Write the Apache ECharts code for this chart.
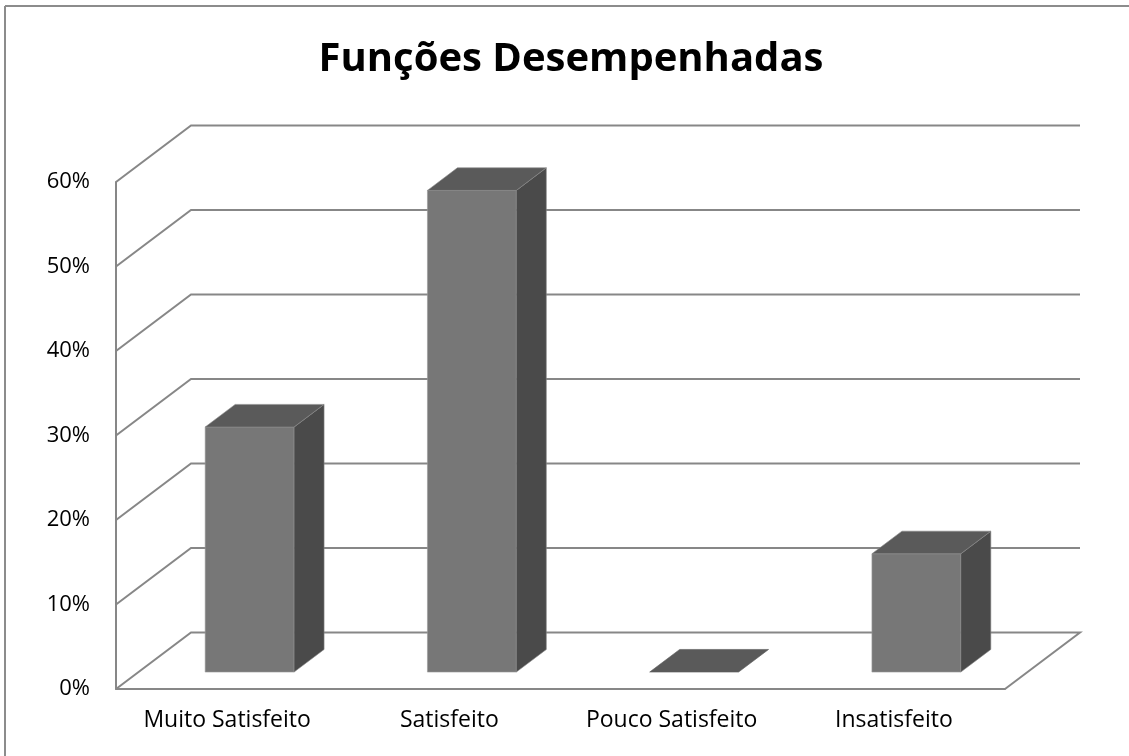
<!DOCTYPE html>
<html>
<head>
<meta charset="utf-8">
<script src="https://cdn.jsdelivr.net/npm/echarts@6/dist/echarts.min.js"></script>
<style>
  html, body { margin: 0; padding: 0; background: #fff; overflow: hidden; }
  #chart { width: 1129px; height: 756px; }
</style>
</head>
<body>
<div id="chart"></div>
<script>
// Survey answers (percent of respondents)
const categories = ['Muito Satisfeito', 'Satisfeito', 'Pouco Satisfeito', 'Insatisfeito'];
const percentages = [29, 57, 0, 14];
const valueTicks = [0, 10, 20, 30, 40, 50, 60];

// Pseudo-3D projection: screen shift of the back wall relative to the front plane
const DEPTH = [75, -56.5];
const BAR_Z0 = 0.3, BAR_Z1 = 0.7;   // bar depth span (fraction of full depth)
const BAR_W = 0.4;                  // bar width as fraction of a category band

const LINE = '#878787';
const FRONT = '#777777', SIDE = '#4a4a4a', TOP = '#5a5a5a';

const chart = echarts.init(document.getElementById('chart'));

function shift(p, z) { return [p[0] + DEPTH[0] * z, p[1] + DEPTH[1] * z]; }

function renderWall(params, api) {
  const cs = params.coordSys;
  const v = api.value(0);
  const y = api.coord([0, v])[1];
  const l = cs.x, r = cs.x + cs.width;
  const pts = [[l, y], shift([l, y], 1), shift([r, y], 1)];
  if (v === 0) pts.push([r, y]);
  return {
    type: 'polyline',
    shape: { points: pts },
    style: { stroke: LINE, lineWidth: 2, fill: null },
    silent: true
  };
}

function renderBar(params, api) {
  const i = api.value(0), v = api.value(1);
  const band = api.size([1, 0])[0];
  const c = api.coord([i, 0]);
  const top = api.coord([i, v])[1];
  const x0 = c[0] - band * BAR_W / 2, x1 = c[0] + band * BAR_W / 2;
  const yb = c[1];
  const f = {
    tl: shift([x0, top], BAR_Z0), tr: shift([x1, top], BAR_Z0),
    bl: shift([x0, yb], BAR_Z0), br: shift([x1, yb], BAR_Z0)
  };
  const b = {
    tl: shift([x0, top], BAR_Z1), tr: shift([x1, top], BAR_Z1),
    br: shift([x1, yb], BAR_Z1)
  };
  const children = [];
  if (v > 0) {
    children.push({ type: 'polygon', shape: { points: [f.tl, f.tr, f.br, f.bl] },
      style: { fill: FRONT, stroke: '#9a9a9a', lineWidth: 0.6 } });
    children.push({ type: 'polygon', shape: { points: [f.tr, b.tr, b.br, f.br] },
      style: { fill: SIDE, stroke: '#8a8a8a', lineWidth: 0.6 } });
  }
  children.push({ type: 'polygon', shape: { points: [f.tl, f.tr, b.tr, b.tl] },
    style: { fill: TOP, stroke: v > 0 ? '#8a8a8a' : TOP, lineWidth: 0.6 } });
  return { type: 'group', children: children };
}

chart.setOption({
  backgroundColor: '#ffffff',
  animation: false,
  title: {
    text: 'Funções Desempenhadas',
    left: 566,
    top: 35,
    textAlign: 'center',
    textStyle: { fontFamily: 'Open Sans', fontWeight: 'bold', fontSize: 40, color: '#000' }
  },
  // chart-area frame: only its top and left edges fall inside the canvas
  graphic: [
    { type: 'line', shape: { x1: 5, y1: 6, x2: 1129, y2: 6 },
      style: { stroke: '#8c8c8c', lineWidth: 2 }, silent: true, z: -1 },
    { type: 'line', shape: { x1: 5, y1: 6, x2: 5, y2: 756 },
      style: { stroke: '#8c8c8c', lineWidth: 2 }, silent: true, z: -1 }
  ],
  grid: { left: 116, right: 124, top: 182, bottom: 67 },
  xAxis: {
    type: 'category',
    data: categories,
    axisLine: { show: true, lineStyle: { color: LINE, width: 2 } },
    axisTick: { show: false },
    axisLabel: { interval: 0, fontFamily: 'Open Sans', fontSize: 23, color: '#000', margin: 20 },
    splitLine: { show: false }
  },
  yAxis: {
    type: 'value',
    min: 0, max: 60, interval: 10,
    axisLine: { show: true, lineStyle: { color: LINE, width: 2 } },
    axisTick: { show: false },
    splitLine: { show: false },
    axisLabel: {
      formatter: '{value}%', fontFamily: 'Open Sans', fontSize: 22, color: '#000',
      margin: 26, padding: [14, 0, 0, 0]
    }
  },
  series: [
    {
      type: 'custom',
      renderItem: renderWall,
      data: valueTicks.map(v => [v]),
      encode: { y: 0 },
      z: 1,
      silent: true
    },
    {
      type: 'custom',
      renderItem: renderBar,
      data: percentages.map((v, i) => [i, v]),
      encode: { x: 0, y: 1 },
      z: 3
    }
  ]
});
</script>
</body>
</html>
